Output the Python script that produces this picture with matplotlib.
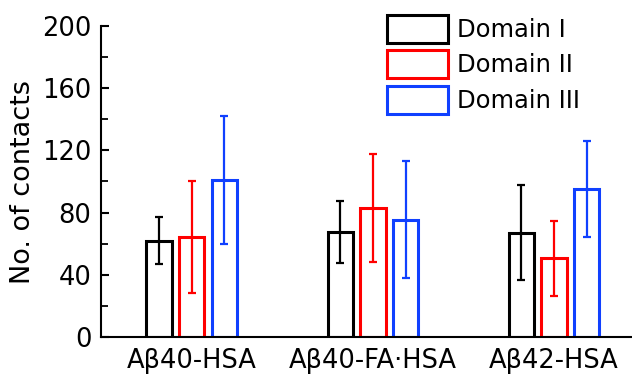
import numpy as np
import matplotlib
matplotlib.use('Agg')
import matplotlib.pyplot as plt
from matplotlib.ticker import MultipleLocator

systems = ['A\u03b240-HSA', 'A\u03b240-FA\u00b7HSA', 'A\u03b242-HSA']
domains = ['Domain I', 'Domain II', 'Domain III']
colors = ['black', '#ff0000', '#1040ff']

# mean contacts and spread per domain, one entry per system
domain1 = [62, 67.5, 67]
domain2 = [64, 83, 50.5]
domain3 = [101, 75.5, 95]
err1 = [15, 20, 30.5]
err2 = [36, 35, 24]
err3 = [41, 37.5, 31]

means = [domain1, domain2, domain3]
errs = [err1, err2, err3]

fig = plt.figure(figsize=(6.32, 3.75), dpi=100)
ax = fig.add_axes([0.16, 0.1013, 0.84, 0.8294])

x = np.arange(1, len(systems) + 1)
width = 0.14
offsets = [-0.18, 0.0, 0.18]

for vals, e, c, off, name in zip(means, errs, colors, offsets, domains):
    ax.bar(x + off, vals, width, facecolor='none', edgecolor=c, linewidth=2.2, label=name)
    ax.errorbar(x + off, vals, yerr=e, fmt='none', ecolor=c, elinewidth=1.6,
                capsize=3, capthick=1.6)

ax.set_xlim(0.5, 3.43)
ax.set_ylim(0, 200)
ax.set_xticks(x)
ax.set_xticklabels(systems, fontsize=18.5)
ax.yaxis.set_major_locator(MultipleLocator(40))
ax.yaxis.set_minor_locator(MultipleLocator(20))
ax.tick_params(axis='y', which='major', direction='in', length=6, width=1.5, labelsize=18.5, pad=7)
ax.tick_params(axis='y', which='minor', direction='in', length=5, width=1.3)
ax.tick_params(axis='x', length=0, pad=8)
ax.set_ylabel('No. of contacts', fontsize=19.5, labelpad=4)

for side in ['top', 'right']:
    ax.spines[side].set_visible(False)
for side in ['left', 'bottom']:
    ax.spines[side].set_linewidth(1.5)

fig.legend(loc='upper left', bbox_to_anchor=(387 / 632, 1 - 15 / 375), frameon=False,
           fontsize=17.5, handlelength=2.5, handleheight=1.4, handletextpad=0.4,
           labelspacing=0.3, borderpad=0, borderaxespad=0)

fig.savefig('out.png', dpi=100)
